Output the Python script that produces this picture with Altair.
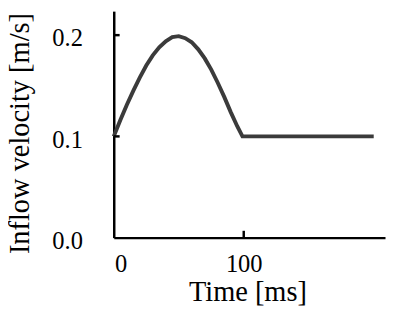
import altair as alt
import pandas as pd

# Data
time_ms = [0, 5, 10, 15, 20, 25, 30, 35, 40, 45, 50, 55, 60, 65, 70, 75, 80, 85, 90, 95, 99, 200]
velocity = [0.100, 0.116, 0.131, 0.145, 0.158, 0.170, 0.180, 0.188, 0.194, 0.198, 0.199,
            0.197, 0.193, 0.186, 0.177, 0.166, 0.153, 0.139, 0.124, 0.110, 0.100, 0.100]
x_ticks = [0, 100]
y_ticks = [0.0, 0.1, 0.2]
x_inner_ticks = [100]
y_inner_ticks = [0.1, 0.2]

W = 277
H = 231.3
FONT = "Liberation Serif"

df = pd.DataFrame({"t": time_ms, "v": velocity})
xs = alt.Scale(domain=[0, 208.7], nice=False, zero=False)
ys = alt.Scale(domain=[0, 0.2237], nice=False, zero=False)

x_axis = alt.Axis(
    values=x_ticks, title="Time [ms]", ticks=False, labelPadding=15,
    labelOffset={"condition": {"test": "datum.value === 0", "value": 7}, "value": 0},
    titleX=136.5, titleY=64, titleBaseline="alphabetic", titleAlign="center",
    labelFlush=False, labelOverlap=False)
y_axis = alt.Axis(
    values=y_ticks, format=".1f", title="Inflow velocity [m/s]", ticks=False,
    labelPadding=32, labelOffset=3, titleX=-87.5, titleY=124.5,
    titleBaseline="alphabetic", titleAlign="center", titleAngle=270,
    labelFlush=False, labelOverlap=False)

line = alt.Chart(df).mark_line(color="#3b3b3b", strokeWidth=4, clip=False).encode(
    x=alt.X("t:Q", scale=xs, axis=x_axis),
    y=alt.Y("v:Q", scale=ys, axis=y_axis),
)

xt = alt.Chart(pd.DataFrame({"t": x_inner_ticks})).mark_rule(color="black", strokeWidth=2.5).encode(
    x=alt.X("t:Q", scale=xs, axis=x_axis),
    y=alt.value(H),
    y2=alt.value(H - 7),
)

yt = alt.Chart(pd.DataFrame({"v": y_inner_ticks})).mark_rule(color="black", strokeWidth=2.5).encode(
    y=alt.Y("v:Q", scale=ys, axis=y_axis),
    x=alt.value(0),
    x2=alt.value(6),
)

chart = alt.layer(line, xt, yt).properties(
    width=W, height=H,
    autosize=alt.AutoSizeParams(type="none"),
    padding={"left": 108, "top": 0, "right": 1, "bottom": 72},
).configure_view(stroke=None).configure_axis(
    domainColor="black", domainWidth=2.5, grid=False,
    labelFont=FONT, labelFontSize=25, labelColor="black",
    titleFont=FONT, titleFontSize=29, titleColor="black", titleFontWeight="normal",
)

chart.save("out.html", embed_options={"renderer": "svg", "actions": False})
